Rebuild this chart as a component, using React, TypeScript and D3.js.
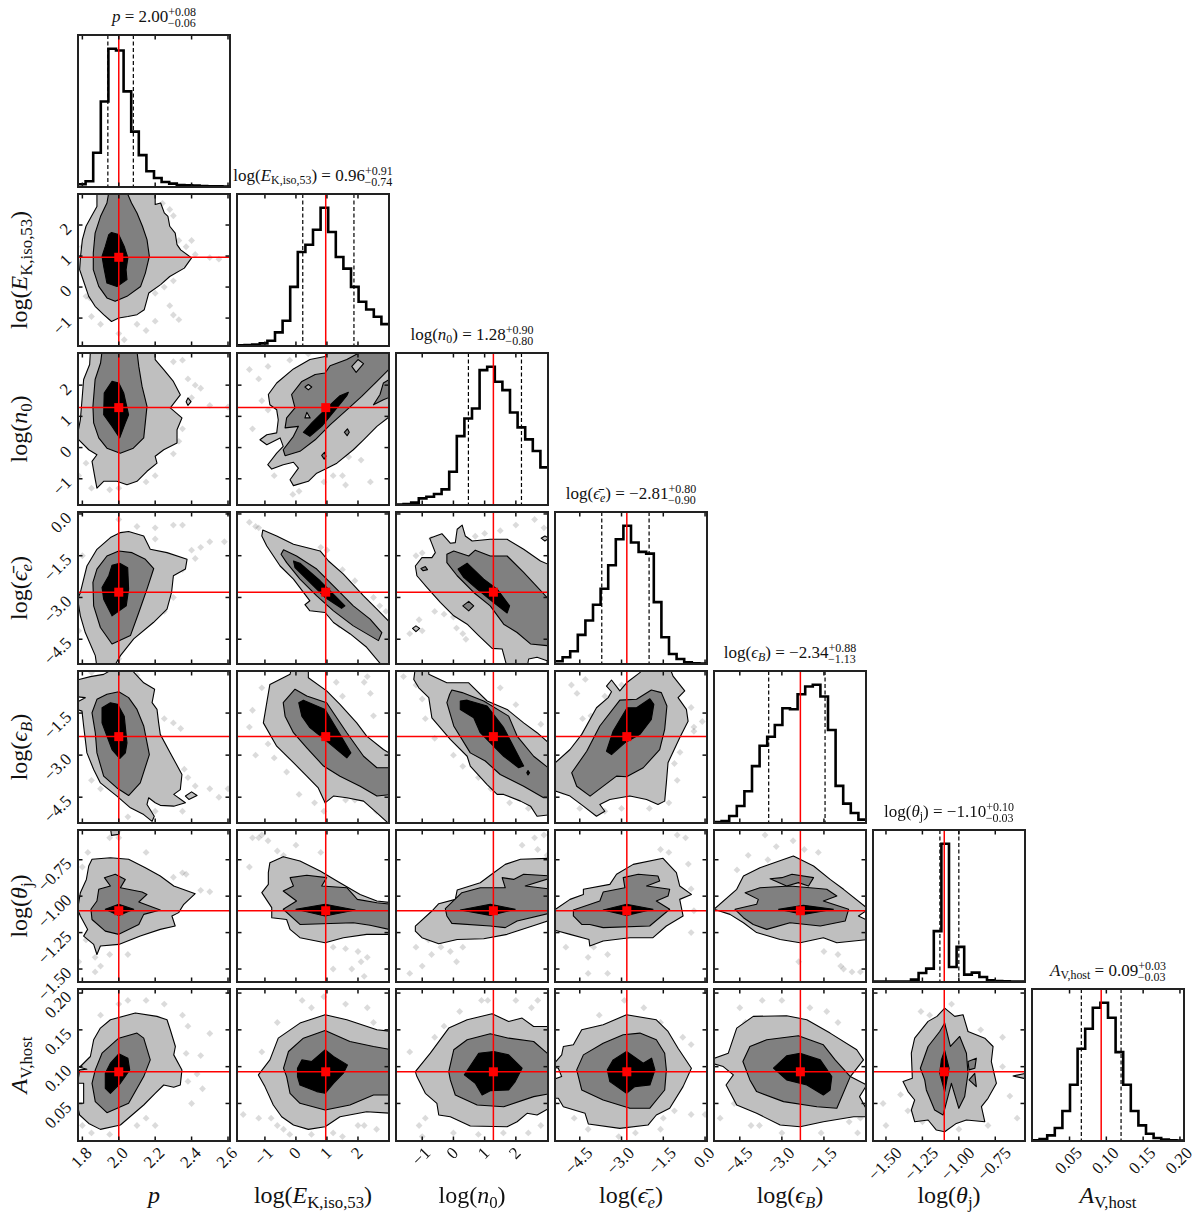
import React from 'react';
import * as d3 from 'd3';

type Pts = number[][];
type Ring = [number, Pts];

const FONT = '"Liberation Serif", serif';

// ------- Parameters -------
const domains = [
  [1.776, 2.611],
  [-1.9, 3.0],
  [-1.84, 3.03],
  [-5.39, 0.07],
  [-5.42, 0.0],
  [-1.589, -0.546],
  [-0.001, 0.2055],
];
const ticks = [
  [1.8, 2.0, 2.2, 2.4, 2.6],
  [-1, 0, 1, 2],
  [-1, 0, 1, 2],
  [-4.5, -3.0, -1.5, 0.0],
  [-4.5, -3.0, -1.5],
  [-1.5, -1.25, -1.0, -0.75],
  [0.05, 0.1, 0.15, 0.2],
];
const tickFormats = ['.1f', 'd', 'd', '.1f', '.1f', '.2f', '.2f'];
const truths = [2.0, 0.96, 1.28, -2.81, -2.34, -1.1, 0.093];
const quantiles = [
  [1.94, 2.08],
  [0.22, 1.87],
  [0.48, 2.18],
  [-3.71, -2.01],
  [-3.47, -1.46],
  [-1.13, -1.0],
  [0.066, 0.12],
];
const medians = ['2.00', '0.96', '1.28', '\u22122.81', '\u22122.34', '\u22121.10', '0.09'];
const uppers = ['+0.08', '+0.91', '+0.90', '+0.80', '+0.88', '+0.10', '+0.03'];
const lowers = ['\u22120.06', '\u22120.74', '\u22120.80', '\u22120.90', '\u22121.13', '\u22120.03', '\u22120.03'];

type Part = { t: string; i?: boolean; sub?: boolean };
const names: Part[][] = [
  [{ t: 'p', i: true }],
  [{ t: 'log(' }, { t: 'E', i: true }, { t: 'K,iso,53', sub: true }, { t: ')' }],
  [{ t: 'log(' }, { t: 'n', i: true }, { t: '0', sub: true }, { t: ')' }],
  [{ t: 'log(' }, { t: '\u03f5\u0304', i: true }, { t: 'e', i: true, sub: true }, { t: ')' }],
  [{ t: 'log(' }, { t: '\u03f5', i: true }, { t: 'B', i: true, sub: true }, { t: ')' }],
  [{ t: 'log(' }, { t: '\u03b8', i: true }, { t: 'j', sub: true }, { t: ')' }],
  [{ t: 'A', i: true }, { t: 'V,host', sub: true }],
];

// ------- Histograms (20 bins per parameter) -------
const hist_p = [8, 17, 102, 255, 412, 407, 285, 165, 95, 47, 27, 15, 10, 6, 5, 4, 3, 2, 2, 1];
const hist_E = [2, 3, 4, 8, 16, 41, 76, 178, 283, 305, 350, 416, 343, 268, 233, 178, 133, 110, 88, 66];
const hist_n = [1, 3, 7, 20, 25, 33, 47, 100, 207, 260, 290, 405, 415, 370, 345, 278, 233, 197, 162, 113];
const hist_e = [8, 20, 38, 87, 130, 177, 225, 295, 373, 413, 363, 335, 330, 185, 80, 30, 15, 5, 2, 1];
const hist_B = [3, 6, 21, 51, 95, 170, 231, 258, 293, 343, 340, 385, 408, 413, 378, 278, 111, 58, 30, 10];
const hist_t = [1, 1, 1, 1, 1, 7, 27, 40, 152, 413, 45, 105, 22, 28, 15, 5, 3, 2, 1, 1];
const hist_A = [2, 6, 17, 39, 90, 169, 277, 337, 400, 415, 370, 267, 169, 90, 47, 22, 9, 4, 2, 1];
const hists = [hist_p, hist_E, hist_n, hist_e, hist_B, hist_t, hist_A];

// ------- Credible contours: level 0 light, 1 mid, 2 dark -------
const cont_p_E: Ring[] = [
  [0, [[1.88,3.05],[1.88,2.6],[1.85,2.28],[1.82,1.96],[1.8,1.53],[1.79,.99],[1.785,.56],[1.81,.13],[1.835,-.3],[1.87,-.62],[1.917,-.89],[1.96,-1.11],[2,-1],[2.05,-.95],[2.1,-.89],[2.14,-.73],[2.165,-.19],[2.23,.08],[2.28,.34],[2.36,.61],[2.4,.94],[2.34,1.2],[2.32,1.37],[2.31,1.74],[2.28,1.96],[2.27,2.28],[2.25,2.39],[2.23,2.71],[2.2,2.66],[2.2,3.05]]],
  [1, [[1.945,3.05],[1.935,2.71],[1.9,2.28],[1.87,1.74],[1.86,1.1],[1.86,.56],[1.89,.02],[1.935,-.35],[1.98,-.46],[2.045,-.3],[2.12,.02],[2.146,.45],[2.168,.99],[2.155,1.53],[2.13,1.96],[2.1,2.39],[2.07,2.71],[2.045,3.05]]],
  [2, [[1.96,1.76],[2,1.69],[2.03,1.31],[2.05,.94],[2.04,.56],[2.045,.24],[1.99,.02],[1.935,.13],[1.917,.67],[1.908,.99],[1.926,1.31],[1.945,1.69]]],
];
const cont_p_n: Ring[] = [
  [0, [[1.844,3.08],[1.84,2.66],[1.807,2.18],[1.798,1.53],[1.789,.89],[1.77,.31],[1.835,-.07],[1.88,-.23],[1.853,-.44],[1.871,-1.03],[1.88,-1.3],[1.917,-1.08],[1.99,-1.08],[2.045,-1.19],[2.1,-1.08],[2.155,-.76],[2.21,-.5],[2.2,-.28],[2.247,-.07],[2.32,.15],[2.32,.57],[2.347,.95],[2.283,1.27],[2.338,1.69],[2.3,2.12],[2.247,2.5],[2.2,2.82],[2.2,3.08]]],
  [0, [[2.37,1.47],[2.38,1.59],[2.397,1.47],[2.38,1.35]]],
  [1, [[1.908,3.08],[1.9,2.71],[1.87,2.18],[1.858,1.32],[1.862,.79],[1.89,.31],[1.935,-.02],[2.008,-.18],[2.08,-.02],[2.137,.31],[2.155,1.32],[2.128,1.96],[2.11,2.6],[2.1,3.08]]],
  [2, [[1.963,2.12],[2,2.07],[2.027,1.75],[2.054,1.05],[2.036,.79],[2.005,.31],[1.963,.68],[1.917,1.05],[1.92,1.75]]],
];
const cont_E_n: Ring[] = [
  [0, [[-.89,1.7],[-.62,2.07],[-.08,2.52],[.45,2.82],[.94,2.92],[1.05,3.08],[3.09,3.08],[3.09,1.05],[2.61,.68],[2.18,.25],[1.85,-.07],[1.32,-.5],[1,-.66],[.67,-.82],[.4,-1.08],[-.08,-1.22],[-.19,-1.03],[.08,-.66],[-.08,-.47],[-.41,-.55],[-.78,-.69],[-.91,-.55],[-.62,-.18],[-.41,.04],[-.51,.31],[-.94,.09],[-1.16,.25],[-.94,.41],[-.62,.47],[-.57,.89],[-.62,1.21],[-.84,1.37]]],
  [1, [[-.14,1.7],[.19,2.12],[.62,2.34],[.94,2.39],[1.1,2.62],[1.64,2.82],[2.12,3.08],[3.09,3.08],[3.09,2.6],[2.61,2.12],[2.12,1.64],[1.64,1.21],[1.1,.73],[.62,.25],[.13,-.12],[-.35,-.26],[-.41,-.07],[-.08,.36],[.08,.68],[-.35,.63],[-.3,.95],[-.03,1.27]]],
  [1, [[2.5,1.37],[2.71,1.7],[2.82,2.07],[3.09,2.23],[3.09,1.64],[2.82,1.53]]],
  [1, [[1.56,.49],[1.66,.6],[1.72,.49],[1.65,.38]]],
  [1, [[.83,-.25],[.92,-.15],[.97,-.28],[.91,-.37]]],
  [0, [[1.8,2.6],[2,2.82],[2.18,2.69],[1.94,2.41]]],
  [0, [[.29,1.94],[.4,2.02],[.51,1.94],[.4,1.85]]],
  [0, [[.35,1.13],[.46,.95],[.29,.95]]],
  [2, [[.24,.49],[.51,.79],[1.05,1.32],[1.42,1.66],[1.69,1.77],[1.64,1.66],[1.32,1.27],[.83,.68],[.45,.36]]],
];
const cont_p_e: Ring[] = [
  [0, [[2.054,-.63],[2.137,-.79],[2.173,-1.27],[2.265,-1.39],[2.375,-1.63],[2.366,-1.98],[2.3,-2.22],[2.29,-2.82],[2.265,-3.42],[2.19,-3.9],[2.082,-4.49],[2.009,-5.09],[1.972,-5.51],[1.88,-5.51],[1.871,-5.09],[1.816,-4.26],[1.789,-3.66],[1.774,-3.06],[1.789,-2.82],[1.807,-2.34],[1.825,-1.87],[1.88,-1.27],[1.954,-.85],[2.009,-.67]]],
  [1, [[2,-1.33],[2.073,-1.39],[2.146,-1.63],[2.192,-1.96],[2.155,-2.7],[2.11,-3.54],[2.064,-4.37],[1.963,-4.67],[1.899,-4.08],[1.862,-3.3],[1.858,-2.46],[1.88,-1.98],[1.935,-1.51]]],
  [2, [[1.963,-1.84],[2.005,-1.77],[2.049,-1.93],[2.054,-2.7],[2.041,-3.3],[1.963,-3.66],[1.917,-3.06],[1.908,-2.64],[1.945,-2.22]]],
];
const cont_E_e: Ring[] = [
  [0, [[-1.07,-.58],[-.62,-.79],[-.08,-1.09],[.78,-1.33],[1.05,-1.69],[1.53,-2.16],[2.18,-2.94],[2.61,-3.42],[2.98,-3.84],[3.09,-3.9],[3.09,-5.51],[2.82,-5.51],[2.28,-4.79],[1.75,-4.31],[1.21,-3.9],[.94,-3.54],[.45,-3.48],[.29,-3.26],[.45,-3.12],[-.08,-2.34],[-.51,-1.87],[-.94,-1.15],[-1.1,-.79]]],
  [1, [[-.4,-1.29],[.02,-1.51],[.67,-1.98],[1.21,-2.58],[1.85,-3.3],[2.39,-3.78],[2.77,-4.26],[2.66,-4.55],[1.85,-4.02],[1.21,-3.48],[.67,-2.94],[.13,-2.34],[-.3,-1.75],[-.48,-1.45]]],
  [2, [[-.08,-1.69],[.13,-1.77],[.78,-2.4],[1.26,-2.94],[1.58,-3.3],[1.47,-3.39],[.94,-3],[.4,-2.4],[-.03,-1.93]]],
];
const cont_n_e: Ring[] = [
  [0, [[-.76,-.87],[-.37,-.71],[-.1,-1.05],[.06,-1.03],[.12,-.55],[.28,-.4],[.38,-.79],[.6,-.97],[1.18,-.91],[1.72,-.91],[2.25,-1.27],[2.79,-1.69],[3.16,-1.87],[3.16,-5.51],[3,-5.51],[3,-5.27],[2.68,-5.15],[2.41,-5.21],[2.36,-5.51],[2.04,-5.51],[1.72,-5.51],[1.56,-4.85],[1.24,-4.83],[.81,-4.37],[.44,-3.96],[.01,-3.66],[-.42,-3.18],[-.85,-2.64],[-1.17,-2.22],[-1.22,-1.87],[-1.01,-1.57],[-.69,-1.57],[-.58,-1.39]]],
  [0, [[-1.31,-4.11],[-1.2,-4.02],[-1.08,-4.11],[-1.2,-4.23]]],
  [0, [[2.81,-.87],[2.93,-.79],[3.07,-.87],[2.93,-.97]]],
  [1, [[-1.04,-1.96],[-.9,-1.89],[-.83,-2],[-.97,-2.04]]],
  [1, [[-.21,-1.45],[.01,-1.33],[.49,-1.51],[.7,-1.3],[1.18,-1.51],[1.72,-1.51],[2.25,-2.1],[3.05,-3.06],[3.16,-3.06],[3.16,-4.79],[3,-4.73],[2.47,-4.67],[2.04,-4.26],[1.61,-3.96],[1.18,-3.3],[.65,-2.82],[.12,-2.22],[-.21,-1.75]]],
  [1, [[.3,-3.3],[.49,-3.14],[.65,-3.3],[.49,-3.48]]],
  [2, [[.15,-1.98],[.44,-1.77],[.97,-2.34],[1.4,-2.7],[1.8,-3.3],[1.72,-3.56],[1.29,-3.18],[.76,-2.7],[.33,-2.28]]],
];
const cont_p_B: Ring[] = [
  [0, [[1.844,-.2],[1.917,-.12],[1.981,.12],[2.082,.12],[2.082,-.04],[2.137,-.42],[2.197,-.65],[2.183,-1.13],[2.21,-1.37],[2.219,-1.85],[2.228,-2.26],[2.283,-2.92],[2.347,-3.69],[2.338,-4.23],[2.302,-4.4],[2.366,-4.7],[2.302,-4.82],[2.228,-4.79],[2.2,-4.7],[2.164,-4.52],[2.155,-4.76],[2.195,-5.18],[2.183,-5.36],[2.137,-5.12],[2.064,-4.88],[1.99,-4.46],[1.899,-3.99],[1.862,-3.51],[1.825,-2.92],[1.807,-1.96],[1.798,-1.43],[1.77,-1.37],[1.77,-1.11],[1.816,-.95],[1.77,-.92],[1.77,-.32]]],
  [0, [[2.366,-4.46],[2.4,-4.31],[2.43,-4.44],[2.385,-4.58]]],
  [1, [[2,-.74],[2.054,-.95],[2.1,-1.37],[2.137,-1.96],[2.168,-2.98],[2.118,-3.99],[2.054,-4.44],[1.99,-4.17],[1.917,-3.75],[1.88,-2.92],[1.871,-2.2],[1.853,-1.49],[1.88,-1.01],[1.935,-.83]]],
  [2, [[1.954,-1.13],[1.994,-1.19],[2.03,-1.61],[2.045,-2.56],[2.036,-2.92],[2.005,-3.12],[1.963,-2.8],[1.935,-2.32],[1.908,-1.85],[1.908,-1.31]]],
];
const cont_E_B: Ring[] = [
  [0, [[-.84,-.48],[-.41,-.24],[-.19,-.12],[-.14,.12],[.4,.12],[.4,-.24],[.99,-.71],[1.42,-1.19],[1.96,-1.85],[2.28,-2.32],[2.82,-2.8],[3.09,-2.98],[3.09,-5.54],[2.61,-5.06],[2.18,-4.64],[1.64,-4.52],[1.21,-4.46],[.94,-4.7],[.72,-4.17],[.35,-3.75],[-.08,-3.27],[-.62,-2.68],[-1.05,-1.85],[-.94,-1.13]]],
  [1, [[-.41,-1.13],[-.03,-.65],[.35,-.89],[.99,-1.13],[1.64,-2.2],[2.18,-3.04],[2.61,-3.45],[3.09,-3.45],[3.09,-4.4],[2.61,-4.46],[2.07,-4.11],[1.42,-3.75],[.89,-3.39],[.35,-2.74],[-.08,-2.2],[-.35,-1.61]]],
  [2, [[.09,-1.13],[.24,-1.04],[.94,-1.37],[1.42,-2.26],[1.77,-2.92],[1.64,-3.1],[.99,-2.5],[.45,-2.02],[.19,-1.61]]],
];
const cont_n_B: Ring[] = [
  [0, [[-1.22,.12],[-.79,.12],[-.79,-.12],[-.21,-.42],[.49,-.42],[1.08,-1.07],[1.72,-1.37],[2.25,-1.85],[2.68,-2.2],[3.05,-2.56],[3.16,-2.62],[3.16,-5.12],[2.68,-5.18],[2.47,-4.82],[2.15,-4.64],[1.61,-4.4],[1.4,-4.4],[1.08,-4.05],[.54,-3.39],[.44,-3.04],[-.1,-2.44],[-.69,-1.67],[-.79,-.95],[-1.11,-.6],[-1.27,-.3]]],
  [1, [[-.05,-.68],[.28,-.77],[.97,-1.07],[1.77,-1.61],[2.04,-2.32],[2.57,-3.04],[3,-3.42],[3.16,-3.45],[3.16,-4.52],[2.89,-4.52],[2.25,-4.11],[1.5,-3.69],[1.02,-3.21],[.54,-2.92],[.01,-1.96],[-.21,-1.13],[-.12,-.83]]],
  [2, [[.22,-1.07],[.44,-1.04],[1.08,-1.25],[1.61,-2.02],[2.25,-3.39],[2.09,-3.45],[1.61,-3.04],[.86,-2.2],[.65,-1.67],[.22,-1.37]]],
  [2, [[2.35,-3.63],[2.39,-3.55],[2.44,-3.63],[2.39,-3.71]]],
];
const cont_e_B: Ring[] = [
  [0, [[-5.51,-3.39],[-4.85,-2.8],[-4.43,-2.26],[-3.9,-1.31],[-3.48,-.95],[-3.36,-.74],[-3.54,-.54],[-3.36,-.32],[-3.06,-.71],[-2.82,-.42],[-2.34,-.06],[-2.22,.12],[-1.27,.12],[-1.15,-.18],[-.73,-.71],[-.97,-.95],[-.67,-1.37],[-.61,-1.79],[-.91,-2.38],[-1.33,-3.27],[-1.39,-3.99],[-1.45,-4.64],[-1.69,-4.76],[-2.1,-4.58],[-2.7,-4.46],[-3.42,-4.58],[-3.78,-4.76],[-3.6,-5],[-3.9,-5.18],[-4.37,-4.82],[-4.85,-4.46],[-5.51,-4.23]]],
  [1, [[-4.79,-3.63],[-4.25,-2.86],[-3.78,-1.96],[-3.06,-1.04],[-2.46,-1.01],[-1.93,-.68],[-1.57,-.77],[-1.37,-1.25],[-1.45,-2.08],[-1.63,-2.8],[-2.22,-3.45],[-2.82,-3.77],[-3.18,-3.75],[-4.13,-4.46],[-4.61,-4.11]]],
  [2, [[-3.54,-2.86],[-3.3,-2.14],[-2.8,-1.31],[-2.46,-1.31],[-1.98,-.99],[-1.84,-1.19],[-1.93,-1.73],[-2.34,-2.26],[-2.88,-2.56],[-3.36,-2.98]]],
];
const cont_p_t: Ring[] = [
  [0, [[1.954,-.53],[2,-.53],[2,-.576],[1.96,-.583]]],
  [0, [[1.853,-.747],[1.954,-.736],[2.054,-.747],[2.146,-.805],[2.228,-.862],[2.302,-.93],[2.42,-.983],[2.357,-1.056],[2.329,-1.113],[2.292,-1.136],[2.31,-1.205],[2.228,-1.228],[2.118,-1.274],[2,-1.331],[1.899,-1.342],[1.88,-1.4],[1.862,-1.331],[1.807,-1.274],[1.829,-1.228],[1.789,-1.136],[1.774,-1.09],[1.789,-.976],[1.822,-.885],[1.835,-.793]]],
  [1, [[1.921,-.873],[1.981,-.85],[2.036,-.885],[2.009,-.942],[2.128,-.972],[2.155,-.988],[2.11,-1.04],[2.228,-1.095],[2.137,-1.125],[2.11,-1.194],[2,-1.262],[1.926,-1.24],[1.853,-1.16],[1.847,-1.09],[1.88,-1.033],[1.89,-.953],[1.954,-.93]]],
  [2, [[1.926,-1.09],[2,-1.056],[2.082,-1.09],[2,-1.132]]],
];
const cont_E_t: Ring[] = [
  [0, [[-.89,-.839],[-.84,-.77],[-.41,-.729],[.13,-.759],[.78,-.827],[1.32,-.896],[2.07,-.988],[2.61,-1.033],[3.09,-1.045],[3.09,-1.262],[2.28,-1.262],[1.53,-1.285],[.94,-1.32],[.13,-1.285],[-.19,-1.228],[-.3,-1.16],[-.78,-1.148],[-.78,-1.079],[-1.1,-.976],[-.89,-.919]]],
  [1, [[-.19,-.873],[.35,-.857],[.99,-.873],[.83,-.93],[1.64,-.942],[1.98,-1.022],[2.61,-1.045],[3.09,-1.056],[3.09,-1.232],[2.39,-1.2],[1.85,-1.182],[.13,-1.194],[-.41,-1.09],[.02,-1.033],[-.41,-.965],[-.08,-.93]]],
  [2, [[0,-1.09],[.94,-1.056],[1.91,-1.095],[.94,-1.136]]],
];
const cont_n_t: Ring[] = [
  [0, [[-1.22,-1.205],[-.69,-1.102],[-.47,-1.052],[.06,-1.022],[.12,-.958],[.86,-.908],[1.29,-.839],[1.66,-.782],[2.15,-.747],[3.16,-.74],[3.16,-1.16],[2.68,-1.194],[1.72,-1.262],[.97,-1.292],[.12,-1.297],[-.47,-1.326],[-1.01,-1.285],[-1.22,-1.24]]],
  [1, [[-.26,-1.086],[.27,-.976],[.86,-.942],[1.66,-.942],[1.56,-.873],[1.93,-.885],[2.25,-.85],[3.16,-.862],[3.16,-.873],[2.3,-.93],[3.16,-.953],[3.16,-1.113],[2.04,-1.17],[1.66,-1.216],[1.18,-1.205],[-.05,-1.187],[-.21,-1.136]]],
  [2, [[.22,-1.095],[1.18,-1.056],[1.98,-1.09],[1.18,-1.132]]],
];
const cont_e_t: Ring[] = [
  [0, [[-5.37,-1.09],[-4.85,-1.022],[-4.37,-.988],[-4.37,-.953],[-3.42,-.919],[-3.18,-.85],[-2.58,-.782],[-1.51,-.74],[-1.03,-.839],[-.91,-.93],[-.49,-.988],[-.91,-1.022],[-.79,-1.136],[-1.39,-1.205],[-1.87,-1.285],[-2.7,-1.285],[-3.66,-1.308],[-4.14,-1.342],[-4.17,-1.297],[-4.85,-1.262],[-5.51,-1.228],[-5.51,-1.136]]],
  [1, [[-4.73,-1.095],[-3.78,-1.033],[-3.66,-.972],[-2.88,-.942],[-2.94,-.873],[-2.4,-.85],[-1.69,-.862],[-1.63,-.896],[-2.1,-.93],[-1.27,-.953],[-1.33,-.999],[-1.75,-1.033],[-1.27,-1.09],[-1.99,-1.205],[-3.66,-1.216],[-4.14,-1.194],[-4.43,-1.194],[-4.73,-1.136]]],
  [2, [[-3.66,-1.095],[-2.82,-1.056],[-1.87,-1.09],[-2.82,-1.132]]],
];
const cont_B_t: Ring[] = [
  [0, [[-5.42,-1.09],[-4.61,-.953],[-4.37,-.862],[-3.78,-.805],[-2.59,-.724],[-1.87,-.793],[-1.28,-.885],[-.8,-.953],[.09,-1.09],[-.27,-1.136],[.09,-1.17],[.09,-1.297],[-1.04,-1.32],[-1.52,-1.285],[-2.35,-1.32],[-3.06,-1.297],[-3.9,-1.25],[-4.37,-1.182],[-4.85,-1.125]]],
  [1, [[-4.67,-1.09],[-3.9,-1.056],[-3.84,-1.022],[-4.31,-.976],[-3.78,-.942],[-2.71,-.93],[-1.4,-.953],[-1.04,-.999],[-1.52,-1.033],[-.62,-1.09],[-.74,-1.17],[-1.63,-1.205],[-2.71,-1.182],[-3.54,-1.228],[-4.02,-1.194],[-4.37,-1.148]]],
  [1, [[-3.42,-.88],[-3,-.873],[-2.64,-.85],[-1.87,-.873],[-2.05,-.93],[-2.41,-.907],[-2.83,-.93]]],
  [2, [[-3.12,-1.09],[-2.23,-1.063],[-1.16,-1.09],[-2.23,-1.125]]],
];
const cont_p_A: Ring[] = [
  [0, [[1.954,.1637],[2.091,.1728],[2.21,.1683],[2.265,.1637],[2.283,.1501],[2.311,.1274],[2.302,.116],[2.347,.0956],[2.338,.0751],[2.302,.072],[2.247,.0751],[2.2,.0638],[2.137,.0479],[2.009,.0207],[1.899,.0148],[1.835,.0229],[1.785,.0343],[1.77,.0502],[1.807,.0502],[1.807,.0774],[1.774,.0774],[1.785,.0956],[1.825,.0965],[1.785,.0992],[1.844,.1138],[1.862,.1365],[1.899,.1524]]],
  [1, [[2,.1387],[2.1,.1456],[2.137,.1387],[2.173,.1092],[2.137,.0865],[2.054,.0502],[1.935,.0375],[1.871,.0525],[1.853,.0774],[1.871,.0956],[1.908,.1183]]],
  [2, [[2,.1174],[2.05,.1115],[2.06,.0956],[2.009,.0774],[1.954,.0638],[1.926,.0706],[1.926,.0911],[1.954,.1047]]],
];
const cont_E_A: Ring[] = [
  [0, [[-1.21,.0888],[-.84,.1092],[-.57,.1387],[.13,.1592],[.94,.1705],[1.64,.1637],[2.61,.1501],[3.09,.1478],[3.09,.0366],[2.28,.0388],[1.42,.032],[.94,.0184],[.4,.0148],[-.08,.0207],[-.46,.032],[-.73,.0479],[-1,.0729]]],
  [1, [[-.4,.0979],[-.24,.1206],[.24,.1387],[.94,.1492],[1.74,.1342],[2.5,.1274],[3.09,.1229],[3.09,.0615],[2.5,.0615],[1.74,.0479],[.94,.0411],[.13,.0502],[-.19,.0638],[-.3,.0865]]],
  [2, [[.05,.0979],[.19,.1092],[.51,.107],[.94,.1229],[1.21,.1138],[1.66,.1024],[1.53,.0911],[1.21,.0774],[.94,.0638],[.67,.0661],[.13,.0751],[.05,.0865]]],
];
const cont_n_A: Ring[] = [
  [0, [[-1.22,.0933],[-.74,.1183],[-.15,.1524],[.44,.1637],[1.24,.1719],[1.77,.1614],[2.2,.166],[2.57,.1546],[3.16,.1546],[3.16,.0456],[2.68,.0343],[2.36,.0366],[2.04,.0252],[1.72,.0184],[.54,.0193],[-.1,.032],[-.47,.0343],[-.53,.0502],[-.9,.0638],[-1.17,.0865]]],
  [1, [[-.15,.0933],[.01,.1229],[.44,.1365],[1.18,.1447],[1.77,.1387],[2.57,.1342],[3,.1183],[3.16,.1183],[3.16,.0638],[2.57,.0593],[1.61,.0456],[.76,.0479],[.06,.0615],[-.1,.082]]],
  [2, [[.35,.0888],[.81,.1183],[1.29,.1206],[1.77,.116],[2.2,.0979],[1.98,.0797],[1.77,.0683],[1.18,.0674],[.92,.0615],[.7,.0774]]],
];
const cont_e_A: Ring[] = [
  [0, [[-5.09,.1274],[-4.73,.1297],[-4.43,.1501],[-3.66,.157],[-2.82,.1705],[-1.75,.1637],[-1.33,.1478],[-.97,.1251],[-.49,.0979],[-.79,.0729],[-1.27,.0434],[-1.75,.0343],[-2.05,.0207],[-3.06,.0162],[-4.19,.022],[-4.31,.0366],[-5.09,.0456],[-5.27,.057],[-5.51,.057],[-5.51,.082],[-5.15,.0865],[-5.27,.0979],[-5.51,.1001],[-5.15,.116]]],
  [1, [[-4.61,.0956],[-4.37,.116],[-3.66,.1319],[-2.94,.1433],[-2.34,.1456],[-1.75,.1365],[-1.45,.1183],[-1.39,.0956],[-1.45,.0683],[-1.99,.0434],[-2.7,.0434],[-3.66,.0547],[-4.43,.0683]]],
  [2, [[-3.51,.0956],[-3.3,.1092],[-2.82,.1206],[-2.22,.1047],[-1.92,.1115],[-1.8,.0956],[-1.98,.0751],[-2.52,.0729],[-2.82,.0638],[-3.42,.0797]]],
];
const cont_B_A: Ring[] = [
  [0, [[-5.5,.1101],[-4.91,.1183],[-4.61,.1524],[-4.02,.1683],[-2.83,.1692],[-2.11,.1637],[-1.28,.1456],[-.33,.1229],[-.09,.1092],[-.56,.0865],[.03,.0751],[-.23,.0593],[.03,.0411],[.03,.032],[-.44,.032],[-1.52,.0252],[-2.35,.0184],[-3.06,.0207],[-3.9,.0366],[-4.61,.0479],[-4.99,.0751],[-4.73,.0888],[-5.09,.1001],[-5.5,.1047]]],
  [1, [[-4.39,.107],[-4.14,.1274],[-3.54,.1365],[-2.41,.142],[-1.52,.1297],[-1.1,.1092],[-.56,.0865],[-1.04,.0434],[-1.75,.0456],[-2.94,.0525],[-3.9,.0661],[-4.14,.082]]],
  [2, [[-3.3,.0979],[-2.83,.1147],[-2.35,.1183],[-1.63,.1092],[-1.22,.0865],[-1.28,.0683],[-1.52,.0615],[-2.11,.0751],[-2.83,.082]]],
];
const cont_t_A: Ring[] = [
  [0, [[-1.383,.0797],[-1.319,.0842],[-1.326,.1183],[-1.303,.1387],[-1.211,.1615],[-1.15,.1683],[-1.097,.1796],[-1.028,.1683],[-.971,.1705],[-.937,.1478],[-.822,.1387],[-.765,.1274],[-.777,.107],[-.742,.0774],[-.8,.057],[-.845,.0457],[-.822,.0252],[-.948,.0275],[-1.017,.0229],[-1.097,.0116],[-1.154,.0139],[-1.211,.0275],[-1.303,.0252],[-1.326,.0411],[-1.303,.0547],[-1.349,.0661]]],
  [0, [[-.628,.0874],[-.54,.091],[-.54,.0834]]],
  [1, [[-1.264,.0979],[-1.211,.1274],[-1.131,.1478],[-1.097,.1592],[-1.058,.1274],[-.994,.141],[-.948,.1183],[-.937,.091],[-.96,.0593],[-1,.0434],[-1.051,.0774],[-1.108,.0343],[-1.166,.0411],[-1.223,.0684],[-1.234,.082]]],
  [1, [[-.937,.107],[-.88,.1115],[-.89,.0979],[-.93,.0956]]],
  [1, [[-.93,.082],[-.891,.091],[-.88,.0729]]],
  [2, [[-1.097,.1219],[-1.067,.0979],[-1.097,.0661],[-1.131,.091],[-1.12,.1092]]],
];

// ------- Stray samples outside the contours -------
const pts_p_E = [[2.24,2.7],[2.28,2.5],[2.3,2.3],[2.33,1.5],[2.37,1.3],[2.42,1.05],[2.5,.95],[2.55,.9],[2.3,.2],[2.25,0],[2.2,-.2],[1.8,1.3],[1.82,-.3],[1.84,-.35],[2.28,-.6],[2.3,-.9],[2.33,-1.05],[2.2,-1.1],[2.1,-1.2],[2,-1.5],[1.9,-1.2],[2.03,-1.7],[1.85,-.95],[2.15,-1.4],[2.4,1.5]];
const pts_p_n = [[2.3,2.75],[2.35,2.8],[2.38,2.2],[2.42,2],[2.45,1.9],[2.4,1.6],[2.5,1.35],[2.6,1.3],[2.35,.6],[2.33,.2],[2.3,-.2],[2.2,-.9],[2.15,-1.1],[1.82,-.5],[1.85,-1.3],[1.8,.8],[2,-1.3],[1.78,-.9],[1.95,-1.35]];
const pts_E_n = [[-1.5,2.5],[-1.2,2.2],[-.9,2.6],[-1.1,1.5],[-.9,1.2],[-1.4,.6],[-.2,2.8],[.4,3],[1.7,-.3],[2.1,-.4],[2.4,-1.1],[1.5,-.9],[1.6,-1.2],[.1,-1.4],[-.1,-1.5],[.9,-1.1],[1.2,-.9],[-.7,-.9]];
const pts_p_e = [[2,-.2],[2.1,-.45],[2.2,-.5],[2.3,-.4],[2.35,-.4],[2.4,-1.3],[2.45,-1.2],[2.5,-1],[2.58,-1],[2.42,-1.6],[2.35,-2],[2.3,-3],[2.25,-3.5],[2.2,-.9],[1.8,-1.5],[1.78,-4.2],[2,-5.2]];
const pts_E_e = [[-1.5,-.3],[-1.3,-.45],[-1.2,-.5],[.8,-1.2],[1,-1.3],[1.5,-2],[1.9,-2.4],[2.5,-3],[2.7,-3.3],[2.9,-3.5],[-.6,-1],[1.4,-4],[2.6,-5],[2.8,-4.9]];
const pts_n_e = [[-1.2,-1.5],[-1,-1.4],[-.8,-1.8],[-.6,-3.5],[-.3,-3.6],[0,-3.7],[.1,-4.1],[.3,-4.3],[-1.4,-4.3],[-1.1,-3.8],[.4,-4.5],[.2,-1],[1,-.7],[2,-.4],[2.6,-.2],[2.9,-.5],[-.7,-.9],[.7,-.8],[1.5,-.6],[-1,-4.2],[-.2,-3.3]];
const pts_p_B = [[2.25,-1.7],[2.3,-1.85],[2.34,-2.05],[2.36,-3.5],[2.38,-3.8],[2.42,-4.1],[2.5,-4.2],[2.55,-4.5],[2.35,-5],[2.2,-5],[1.9,-4.2],[1.85,-3.9],[2.05,-5.2],[2.6,-4.2],[1.85,-.05],[2.1,-.15]];
const pts_E_B = [[-1.1,-.6],[-1.4,-1.4],[-.9,-2.6],[-1.3,-3],[-1.5,-2],[-.7,-3.1],[-.3,-3.6],[.1,-4.4],[.6,-4.7],[.9,-5],[1.6,-4.6],[1.9,-4.6],[2.3,-.2],[2.2,-.4],[2.4,-.8],[2.5,-1.6],[2.6,-5],[1.3,-.4],[1.5,-.9],[3,-5],[2.9,-4.7]];
const pts_n_B = [[-1.6,-.2],[-1.2,-.5],[-1,-1],[-.9,-1.7],[-.6,-2.4],[0,-3],[.3,-3.4],[.8,-3.8],[1.2,-4.2],[1.8,-4.7],[2.4,-4.9],[1.5,-.6],[2,-1.2],[2.8,-1.9]];
const pts_e_B = [[-4.8,-.5],[-4.6,-.8],[-4.3,-.3],[-4.4,-1.7],[-4.1,-1.6],[-3.6,-.9],[-3,-.5],[-1.7,-.5],[-.9,-.8],[-.4,-2],[-.5,-1.3],[-.4,-2.15],[-.9,-2.9],[-1.1,-3.3],[-1,-3.9],[-1.3,-4.7],[-2,-4.9],[-3,-4.9],[-3.6,-5],[-4.5,-4.9],[-5,-3.9],[-5.1,-4.3],[-.1,-1.8]];
const pts_p_t = [[1.95,-.6],[1.83,-.7],[1.8,-.8],[2,-.6],[2.15,-.7],[2.35,-.84],[2.37,-.85],[2.3,-.87],[2.45,-.96],[2.5,-.97],[2.35,-1.05],[2.3,-1.07],[1.82,-1.3],[1.87,-1.42],[1.9,-1.48],[1.78,-1.45],[1.87,-1.52],[1.95,-1.4],[2.05,-1.4],[2,-.55]];
const pts_E_t = [[-1.4,-.6],[-1.2,-.6],[-1.1,-.58],[-.9,-.62],[-.6,-.69],[-.4,-.72],[0,-.65],[1.2,-1.35],[1.6,-1.36],[2,-1.38],[2.3,-1.42],[1.8,-1.5],[2.1,-1.45],[-1.5,-.8],[2.2,-1.55],[1.2,-1.5],[.8,-.7]];
const pts_n_t = [[-1.4,-1.53],[-1,-1.48],[-.7,-1.4],[-.4,-1.35],[-.1,-1.38],[.1,-1.45],[-.8,-1.3],[2.2,-.65],[2.6,-.6],[2.9,-.58],[2.7,-.68],[3,-.72],[-1.2,-1.35],[.3,-1.35]];
const pts_e_t = [[-4,-1.35],[-3.5,-1.4],[-4.2,-1.42],[-4.2,-1.53],[-3.5,-1.53],[-1,-.58],[-.7,-.6],[-1.3,-.7],[-.6,-.78],[-.5,-.95],[-1.6,-.68],[-.4,-1.1],[-.5,-1.25],[-5,-1.35]];
const pts_B_t = [[-4.6,-.82],[-3.6,-.58],[-3.2,-.66],[-2.6,-.62],[-2.2,-.68],[-1.7,-.7],[-1,-1.4],[-.8,-1.5],[-1.5,-1.38],[-.9,-1.48],[-.5,-1.52],[-.2,-1.52],[-2.4,-1.45],[-3.5,-.75],[-4.2,-.72]];
const pts_p_A = [[2.05,.19],[2.15,.19],[2.25,.185],[2.35,.17],[2.38,.155],[2.37,.118],[2.45,.115],[2.38,.08],[2.46,.07],[2.5,.145],[2.4,.05],[2.2,.02],[1.85,.01],[1.95,.008],[2.1,.02],[1.8,.02],[2.15,.03],[1.9,.17],[2,.185],[2.43,.09]];
const pts_E_A = [[-1.1,.12],[-.6,.16],[-1.2,.03],[-.8,.03],[-.6,.02],[-.4,.015],[-.2,.008],[.2,.19],[.5,.18],[.9,.195],[1.6,.185],[2.3,.18],[2.5,.16],[2.2,.02],[2,.02],[2.6,.015],[1.2,.01],[.5,.008],[-1.7,.035],[1.5,.005],[-.9,.08]];
const pts_n_A = [[-1.1,.02],[-.9,.03],[-1,.005],[-.6,.14],[-.3,.155],[.2,.175],[.9,.19],[1.1,.19],[2,.19],[2.5,.18],[2.7,.19],[-1.4,.12],[0,.01],[.8,.008],[1.6,.01],[2.4,.01],[2.8,.02],[-.9,.1]];
const pts_e_A = [[-3.8,.17],[-2.9,.19],[-2.2,.18],[-1.6,.16],[-.8,.14],[-.5,.13],[-1.1,.04],[-.5,.035],[0,.035],[-1.5,.03],[-3.1,.005],[-4.7,.03],[-4.9,.1],[-2.5,.01],[-1.6,.015],[-4.2,.015]];
const pts_B_A = [[-4.5,.18],[-4.3,.16],[-3.7,.19],[-3,.19],[-2,.18],[-1.4,.175],[-1,.16],[-4.7,.05],[-4.1,.02],[-3.8,.02],[-3,.01],[-1.6,.01],[-.6,.025],[-.2,.03],[-.3,.01],[-5.2,.03]];
const pts_t_A = [[-1.52,.05],[-1.4,.062],[-1.35,.04],[-1.5,.02],[-1.26,.175],[-1.2,.17],[-1.05,.185],[-.85,.15],[-.7,.14],[-.65,.06],[-.6,.03],[-.7,.1],[-.8,.02],[-1,.015],[-1.25,.025]];

// row, col, contours, strays
const pairs: [number, number, Ring[], Pts][] = [
  [1, 0, cont_p_E, pts_p_E],
  [2, 0, cont_p_n, pts_p_n],
  [2, 1, cont_E_n, pts_E_n],
  [3, 0, cont_p_e, pts_p_e],
  [3, 1, cont_E_e, pts_E_e],
  [3, 2, cont_n_e, pts_n_e],
  [4, 0, cont_p_B, pts_p_B],
  [4, 1, cont_E_B, pts_E_B],
  [4, 2, cont_n_B, pts_n_B],
  [4, 3, cont_e_B, pts_e_B],
  [5, 0, cont_p_t, pts_p_t],
  [5, 1, cont_E_t, pts_E_t],
  [5, 2, cont_n_t, pts_n_t],
  [5, 3, cont_e_t, pts_e_t],
  [5, 4, cont_B_t, pts_B_t],
  [6, 0, cont_p_A, pts_p_A],
  [6, 1, cont_E_A, pts_E_A],
  [6, 2, cont_n_A, pts_n_A],
  [6, 3, cont_e_A, pts_e_A],
  [6, 4, cont_B_A, pts_B_A],
  [6, 5, cont_t_A, pts_t_A],
];

// ------- Layout -------
const SIZE = 152;
const PITCH = 159;
const LEFT = 78;
const TOP = 35;
const levelFills = ['#bfbfbf', '#808080', '#000000'];
const FRAME = '#222';
const TICK_FS = 17;

const panelX = (c: number) => LEFT + c * PITCH;
const panelY = (r: number) => TOP + r * PITCH;
const xScale = (c: number) =>
  d3.scaleLinear().domain(domains[c]).range([panelX(c), panelX(c) + SIZE]);
const yScale = (r: number) =>
  d3.scaleLinear().domain(domains[r]).range([panelY(r) + SIZE, panelY(r)]);

// width of a tick string in the serif face, for the bounding box of rotated labels
const textWidth = (s: string) =>
  d3.sum(Array.from(s), (ch) => (ch === '.' ? 0.25 : ch === '\u2212' ? 0.564 : 0.5)) * TICK_FS;
const halfBox = (s: string) => ((textWidth(s) + 0.7 * TICK_FS) * Math.SQRT1_2) / 2;

const SUB_DROP = 0.2;
const diamond = d3.symbol().type(d3.symbolDiamond2).size(30);

function renderParts(parts: Part[], fs: number) {
  let offset = 0;
  return parts.map((part, k) => {
    const target = part.sub ? fs * SUB_DROP : 0;
    const dy = target - offset;
    offset = target;
    return (
      <tspan
        key={k}
        dy={dy}
        fontStyle={part.i ? 'italic' : 'normal'}
        fontSize={part.sub ? fs * 0.7 : fs}
      >
        {part.t}
      </tspan>
    );
  });
}

function Ticks({ r, c, diag }: { r: number; c: number; diag?: boolean }) {
  const x = xScale(c);
  const y = yScale(r);
  const top = panelY(r);
  const left = panelX(c);
  const len = 4.5;
  return (
    <g stroke="#111" strokeWidth={1.5}>
      {ticks[c].map((t) => (
        <g key={t}>
          <line x1={x(t)} x2={x(t)} y1={top} y2={top + len} />
          <line x1={x(t)} x2={x(t)} y1={top + SIZE} y2={top + SIZE - len} />
        </g>
      ))}
      {!diag &&
        ticks[r].map((t) => (
          <g key={t}>
            <line x1={left} x2={left + len} y1={y(t)} y2={y(t)} />
            <line x1={left + SIZE} x2={left + SIZE - len} y1={y(t)} y2={y(t)} />
          </g>
        ))}
    </g>
  );
}

function DiagPanel({ i }: { i: number }) {
  const x = xScale(i);
  const top = panelY(i);
  const counts = hists[i];
  const y = d3
    .scaleLinear()
    .domain([0, d3.max(counts)! * 1.1])
    .range([top + SIZE, top]);
  const bins = d3.range(counts.length + 1).map((k) =>
    domains[i][0] + ((domains[i][1] - domains[i][0]) * k) / counts.length,
  );
  const stepped = d3
    .line<number>()
    .x((_, k) => x(bins[k]))
    .y((_, k) => y(k < counts.length ? counts[k] : counts[counts.length - 1]))
    .curve(d3.curveStepAfter);
  const nameEndsLow = names[i][names[i].length - 1].sub ? 17 * SUB_DROP : 0;
  return (
    <g>
      <g clipPath={`url(#clip-${i}-${i})`}>
        <path d={stepped(bins)!} fill="none" stroke="#000" strokeWidth={2.6} />
        {quantiles[i].map((q) => (
          <line
            key={q}
            x1={x(q)}
            x2={x(q)}
            y1={top}
            y2={top + SIZE}
            stroke="#000"
            strokeWidth={1.2}
            strokeDasharray="4 2.5"
          />
        ))}
        <line x1={x(truths[i])} x2={x(truths[i])} y1={top} y2={top + SIZE} stroke="#ff0000" strokeWidth={1.5} />
      </g>
      <Ticks r={i} c={i} diag />
      <rect x={panelX(i)} y={top} width={SIZE} height={SIZE} fill="none" stroke={FRAME} strokeWidth={2} />
      <text x={panelX(i) + SIZE / 2} y={top - 13} textAnchor="middle" fontFamily={FONT} fontSize={17} fill="#111">
        {renderParts(names[i], 17)}
        <tspan dy={-nameEndsLow}>{` = ${medians[i]}`}</tspan>
        <tspan dy={-6.5} fontSize={12}>{uppers[i]}</tspan>
        <tspan dy={11} dx={-28.2} fontSize={12}>{lowers[i]}</tspan>
      </text>
    </g>
  );
}

function PairPanel({ r, c, rings, strays }: { r: number; c: number; rings: Ring[]; strays: Pts }) {
  const x = xScale(c);
  const y = yScale(r);
  const outline = d3
    .line<number[]>()
    .x((d) => x(d[0]))
    .y((d) => y(d[1]))
    .curve(d3.curveLinearClosed);
  return (
    <g>
      <g clipPath={`url(#clip-${r}-${c})`}>
        <g filter="url(#soft)">
          {strays.map((d, k) => (
            <path key={k} d={diamond()!} transform={`translate(${x(d[0])},${y(d[1])})`} fill="#000" opacity={0.14} />
          ))}
        </g>
        {rings.map(([level, pts], k) => (
          <path key={k} d={outline(pts)!} fill={levelFills[level]} stroke="#000" strokeWidth={1.1} strokeLinejoin="round" />
        ))}
        <line x1={x(truths[c])} x2={x(truths[c])} y1={panelY(r)} y2={panelY(r) + SIZE} stroke="#ff0000" strokeWidth={1.5} />
        <line x1={panelX(c)} x2={panelX(c) + SIZE} y1={y(truths[r])} y2={y(truths[r])} stroke="#ff0000" strokeWidth={1.5} />
        <rect x={x(truths[c]) - 4.5} y={y(truths[r]) - 4.5} width={9} height={9} fill="#ff0000" />
      </g>
      <Ticks r={r} c={c} />
      <rect x={panelX(c)} y={panelY(r)} width={SIZE} height={SIZE} fill="none" stroke={FRAME} strokeWidth={2} />
    </g>
  );
}

function AxisLabels() {
  const bottom = panelY(6) + SIZE;
  return (
    <g fontFamily={FONT} fill="#111">
      {domains.map((_, c) => {
        const x = xScale(c);
        const fmt = d3.format(tickFormats[c]);
        return (
          <g key={`x${c}`}>
            {ticks[c].map((t) => {
              const s = fmt(t);
              const cx = x(t) - 1;
              const cy = bottom + 5 + halfBox(s);
              return (
                <text key={t} x={cx} y={cy} dy="0.32em" textAnchor="middle" fontSize={TICK_FS} transform={`rotate(-45 ${cx} ${cy})`}>
                  {s}
                </text>
              );
            })}
            <text x={panelX(c) + SIZE / 2} y={1203} textAnchor="middle" fontSize={24}>
              {renderParts(names[c], 24)}
            </text>
          </g>
        );
      })}
      {domains.map((_, r) => {
        if (r === 0) return null;
        const y = yScale(r);
        const fmt = d3.format(tickFormats[r]);
        const mid = panelY(r) + SIZE / 2;
        return (
          <g key={`y${r}`}>
            {ticks[r].map((t) => {
              const s = fmt(t);
              const cx = 73 - halfBox(s);
              const cy = y(t) + halfBox(s) - 3;
              return (
                <text key={t} x={cx} y={cy} dy="0.32em" textAnchor="middle" fontSize={TICK_FS} transform={`rotate(-45 ${cx} ${cy})`}>
                  {s}
                </text>
              );
            })}
            <text x={27} y={mid} textAnchor="middle" fontSize={24} transform={`rotate(-90 27 ${mid})`}>
              {renderParts(names[r], 24)}
            </text>
          </g>
        );
      })}
    </g>
  );
}

export default function App() {
  return (
    <svg
      width={1200}
      height={1218}
      viewBox="0 0 1200 1218"
      style={{ position: 'absolute', left: 0, top: 0, display: 'block', background: '#fff' }}
    >
      <defs>
        <filter id="soft" x="-5%" y="-5%" width="110%" height="110%">
          <feGaussianBlur stdDeviation={0.7} />
        </filter>
        {domains.flatMap((_, r) =>
          domains.map((__, c) =>
            c <= r ? (
              <clipPath id={`clip-${r}-${c}`} key={`${r}-${c}`}>
                <rect x={panelX(c)} y={panelY(r)} width={SIZE} height={SIZE} />
              </clipPath>
            ) : null,
          ),
        )}
      </defs>
      {pairs.map(([r, c, rings, strays]) => (
        <PairPanel key={`${r}-${c}`} r={r} c={c} rings={rings} strays={strays} />
      ))}
      {domains.map((_, i) => (
        <DiagPanel key={i} i={i} />
      ))}
      <AxisLabels />
    </svg>
  );
}
